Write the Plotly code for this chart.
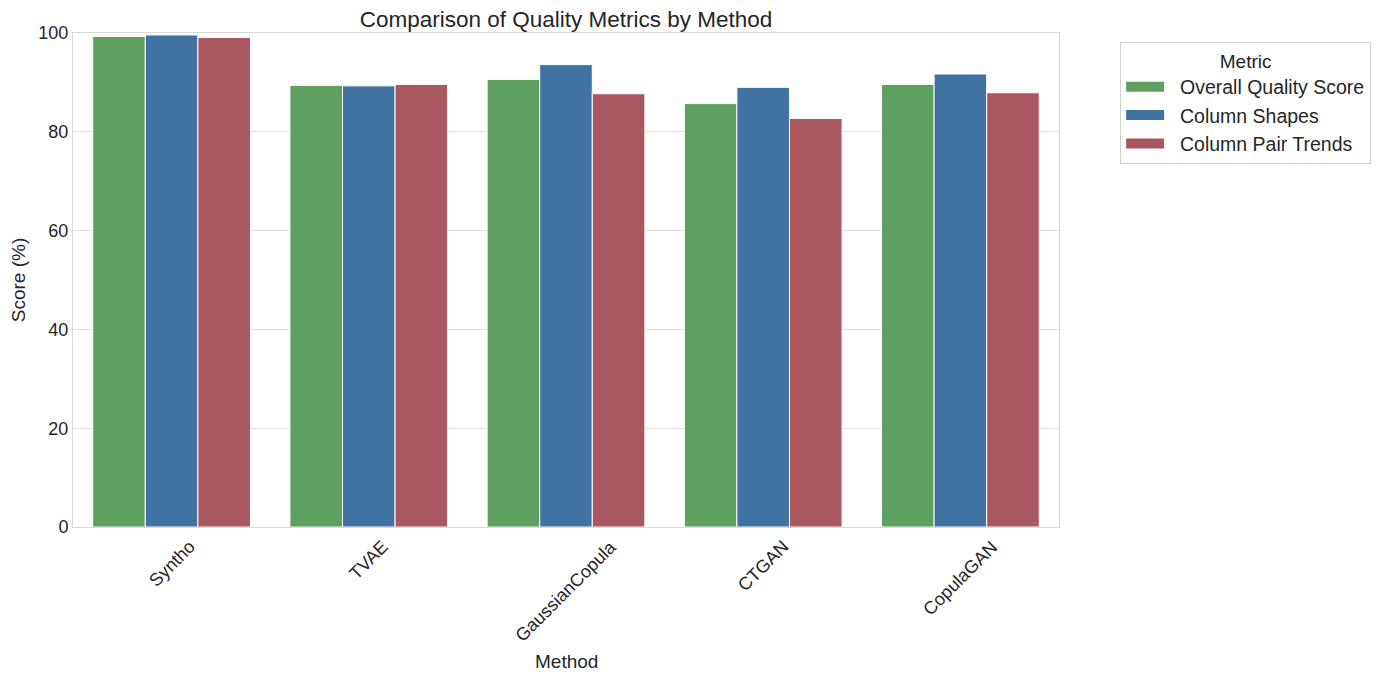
import plotly.graph_objects as go

methods = ["Syntho", "TVAE", "GaussianCopula", "CTGAN", "CopulaGAN"]
overall_quality = [99.3, 89.4, 90.6, 85.7, 89.6]
column_shapes = [99.6, 89.3, 93.6, 89.0, 91.7]
column_pair_trends = [99.1, 89.6, 87.7, 82.7, 87.9]

series = [
    ("Overall Quality Score", overall_quality, "#5f9f5f"),
    ("Column Shapes", column_shapes, "#4073a1"),
    ("Column Pair Trends", column_pair_trends, "#aa5860"),
]

font_family = "Liberation Sans, Arial, sans-serif"
text_color = "#262626"

fig = go.Figure()
for name, values, color in series:
    fig.add_trace(go.Bar(
        x=methods,
        y=values,
        name=name,
        showlegend=False,
        marker={"color": color, "line": {"color": "white", "width": 1}},
    ))
    # legend entry drawn as a wide patch, like the seaborn legend
    fig.add_trace(go.Scatter(
        x=[None],
        y=[None],
        mode="lines",
        name="\u00a0\u00a0" + name,
        line={"color": color, "width": 13},
    ))

# rotated category labels centred on their ticks (matplotlib style)
for m in methods:
    fig.add_annotation(
        x=m, y=0, xref="x", yref="y",
        text=m, showarrow=False,
        textangle=-45,
        xanchor="center", yanchor="top",
        yshift=-7,
        font={"size": 18, "color": text_color},
    )

fig.add_annotation(
    x=0.5, y=-0.273, xref="paper", yref="paper",
    text="Method", showarrow=False,
    xanchor="center", yanchor="middle",
    font={"size": 19, "color": text_color},
)

# the page has an 8px body margin, so size the figure a little smaller
fig.update_layout(
    width=1375,
    height=674,
    barmode="group",
    bargap=0.2,
    bargroupgap=0,
    plot_bgcolor="white",
    paper_bgcolor="white",
    font={"family": font_family, "size": 19, "color": text_color},
    margin={"l": 65, "r": 324, "t": 25, "b": 155, "autoexpand": False},
    title={
        "text": "Comparison of Quality Metrics by Method",
        "x": 0.5,
        "xref": "paper",
        "xanchor": "center",
        "y": 0.995,
        "yref": "container",
        "yanchor": "top",
        "font": {"size": 22.5, "color": text_color},
    },
    legend={
        "title": {"text": "Metric", "side": "top center", "font": {"size": 19}},
        "x": 1.062,
        "xanchor": "left",
        "y": 0.982,
        "yanchor": "top",
        "bordercolor": "#d0d0d0",
        "borderwidth": 1,
        "font": {"size": 19.5},
        "itemwidth": 38,
        "tracegroupgap": 0,
    },
    xaxis={
        "showticklabels": False,
        "showgrid": False,
        "showline": True,
        "linecolor": "#d9d9d9",
        "mirror": True,
        "ticks": "",
    },
    yaxis={
        "title": {"text": "Score (%)", "standoff": 19, "font": {"size": 19}},
        "range": [0, 100],
        "tickvals": [0, 20, 40, 60, 80, 100],
        "showgrid": True,
        "gridcolor": "#e0e0e0",
        "gridwidth": 1.3,
        "showline": True,
        "linecolor": "#d9d9d9",
        "mirror": True,
        "zeroline": False,
        "ticks": "",
        "tickfont": {"size": 18},
        "automargin": False,
    },
)

fig.write_html("out.html")
